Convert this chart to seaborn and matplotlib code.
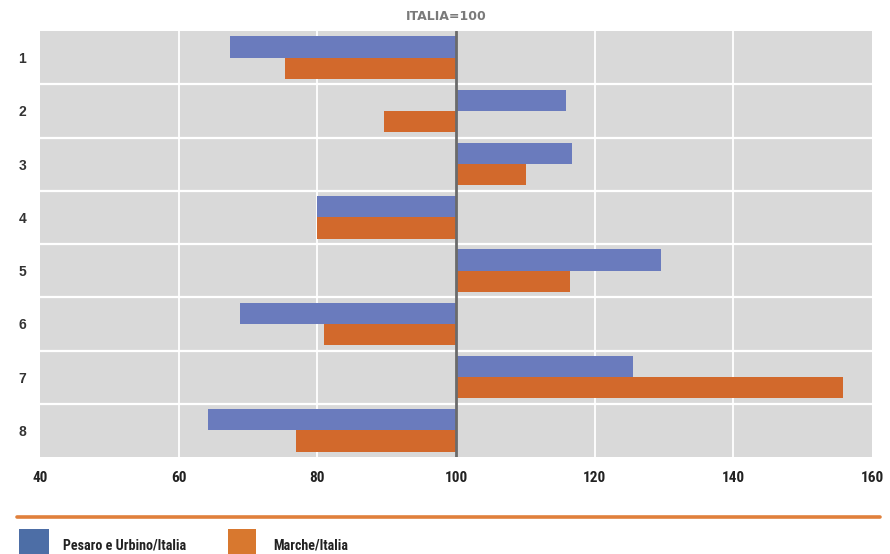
import matplotlib
matplotlib.use("Agg")
import matplotlib.pyplot as plt
from matplotlib.patches import Rectangle
from matplotlib.lines import Line2D
from matplotlib import font_manager
import seaborn as sns
import pandas as pd

# Index values, Italy = 100
categories = ["1", "2", "3", "4", "5", "6", "7", "8"]
pesaro_urbino = [67.4, 115.8, 116.7, 80.0, 129.6, 68.8, 125.5, 64.2]
marche = [75.4, 89.6, 110.1, 80.0, 116.4, 81.0, 155.8, 76.9]
series_names = ["Pesaro e Urbino/Italia", "Marche/Italia"]
x_ticks = [40, 60, 80, 100, 120, 140, 160]
title = "ITALIA=100"

BLUE = "#6a7bbd"
ORANGE = "#d2692c"
LEG_BLUE = "#4d6ea6"
LEG_ORANGE = "#d8782f"
BG = "#d9d9d9"

# pick a narrow face if one is installed
available = {f.name for f in font_manager.fontManager.ttflist}
narrow = "DejaVu Sans"
for cand in ["Roboto Condensed", "Liberation Sans Narrow", "Open Sans Condensed",
             "Noto Sans Condensed", "DejaVu Sans Condensed"]:
    if cand in available:
        narrow = cand
        break

df = pd.DataFrame({
    "cat": categories * 2,
    "value": pesaro_urbino + marche,
    "series": [series_names[0]] * len(categories) + [series_names[1]] * len(categories),
})

sns.set_style("white")
plt.rcParams["font.family"] = ["Liberation Sans", "DejaVu Sans"]

W, H = 890, 554
fig = plt.figure(figsize=(W / 100, H / 100), dpi=100)
ax = fig.add_axes([40 / W, 1 - 457 / H, 832 / W, (457 - 31) / H])
ax.set_facecolor(BG)

sns.barplot(data=df, y="cat", x="value", hue="series", orient="h",
            palette=[BLUE, ORANGE], width=0.8, saturation=1,
            legend=False, ax=ax)

# bars grow from the 100 baseline
for p in ax.patches:
    w = p.get_width()
    p.set_x(100)
    p.set_width(w - 100)
    p.set_linewidth(0)

ax.set_xlim(40, 160)
ax.set_ylim(len(categories) - 0.5, -0.5)
ax.set_xticks(x_ticks)
ax.set_xticklabels([str(t) for t in x_ticks], fontfamily=narrow,
                   fontstretch="condensed", fontweight="bold",
                   fontsize=11, color="#222222")
ax.set_yticks(range(len(categories)))
ax.set_yticklabels(categories, fontsize=10, fontweight="bold", color="#333333")

# grid: vertical at ticks, horizontal between categories
for t in x_ticks[1:-1]:
    if t != 100:
        ax.axvline(t, color="white", lw=1.3, zorder=0.5)
for i in range(len(categories) - 1):
    ax.axhline(i + 0.5, color="white", lw=1.6, zorder=0.5)
ax.axvline(100, color="#6b6b6b", lw=2, zorder=3)

for s in ax.spines.values():
    s.set_visible(False)
ax.tick_params(axis="both", length=0)
ax.tick_params(axis="x", pad=10)
ax.tick_params(axis="y", pad=10)
ax.set_xlabel("")
ax.set_ylabel("")

title_txt = fig.text(446.5 / W, 1 - 16 / H, title, ha="center", va="center",
                     fontsize=9, fontweight="bold", color="#7a7a7a",
                     family=["DejaVu Sans"])

# separator line and legend
fig.add_artist(Line2D([17 / W, 880 / W], [1 - 517 / H] * 2,
                      color="#e0803c", lw=2.6))
fig.add_artist(Rectangle((19 / W, 0), 30 / W, (H - 529) / H,
                         color=LEG_BLUE, lw=0))
fig.add_artist(Rectangle((228 / W, 0), 28 / W, (H - 529) / H,
                         color=LEG_ORANGE, lw=0))
leg_texts = [
    fig.text(63 / W, 1 - 545 / H, series_names[0], ha="left", va="center",
             fontsize=12, fontweight="bold", fontfamily=narrow,
             fontstretch="condensed", color="#222222"),
    fig.text(273 / W, 1 - 545 / H, series_names[1], ha="left", va="center",
             fontsize=12, fontweight="bold", fontfamily=narrow,
             fontstretch="condensed", color="#222222"),
]
# keep text blocks within their measured widths
renderer = fig.canvas.get_renderer()
for txt, max_w in [(leg_texts[0], 124), (leg_texts[1], 75), (title_txt, 81)]:
    w = txt.get_window_extent(renderer).width
    size = txt.get_fontsize()
    if w > max_w or txt is title_txt:
        txt.set_fontsize(size * max_w / w)

fig.savefig("out.png", dpi=100, facecolor="white")
